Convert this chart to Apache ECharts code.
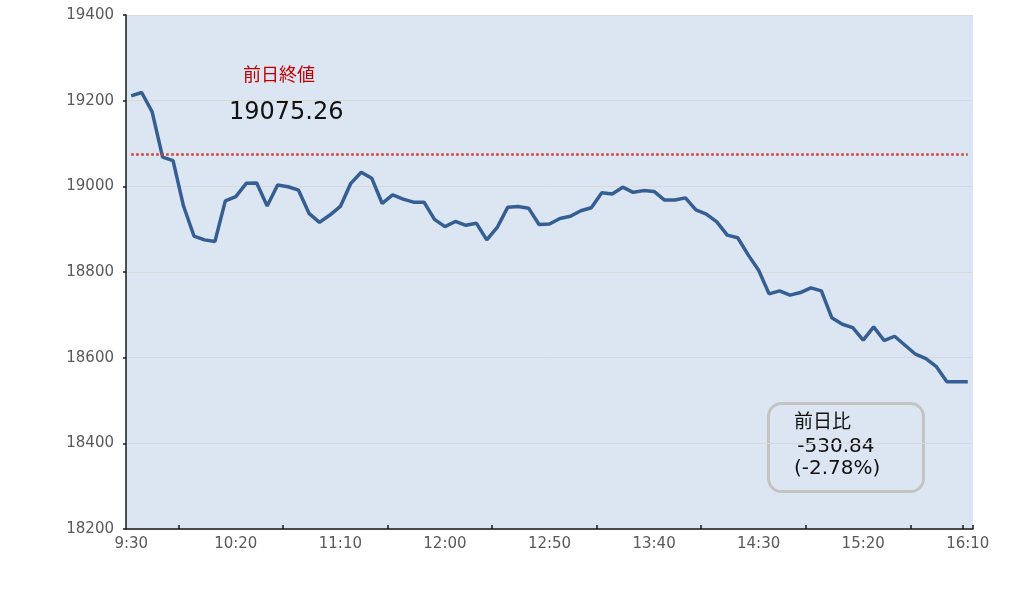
<!DOCTYPE html>
<html>
<head>
<meta charset="utf-8">
<script src="https://cdn.jsdelivr.net/npm/echarts@6/dist/echarts.min.js"></script>
<style>html,body{margin:0;padding:0;background:#fff}#c{width:1036px;height:598px}</style>
</head>
<body>
<div id="c"></div>
<script>
// categories: 5-minute steps from 9:30 to 16:10
const categories = [];
for (let m = 9 * 60 + 30; m <= 16 * 60 + 10; m += 5) {
  categories.push(Math.floor(m / 60) + ':' + String(m % 60).padStart(2, '0'));
}
const prices = [
  19211, 19219, 19174, 19068, 19060, 18954, 18884, 18875, 18871, 18966,
  18976, 19007, 19008, 18954, 19003, 18999, 18991, 18937, 18916, 18933,
  18953, 19007, 19033, 19019, 18960, 18980, 18970, 18963, 18963, 18923,
  18906, 18918, 18909, 18914, 18875, 18904, 18951, 18953, 18949, 18911,
  18912, 18925, 18930, 18943, 18950, 18985, 18982, 18998, 18986, 18990,
  18988, 18968, 18968, 18973, 18945, 18935, 18917, 18886, 18880, 18840,
  18804, 18749, 18756, 18746, 18752, 18763, 18756, 18693, 18678, 18670,
  18641, 18672, 18640, 18650, 18629, 18608, 18598, 18579, 18544, 18544,
  18544
];
const prevClose = 19075.26;
const yTicks = [18200, 18400, 18600, 18800, 19000, 19200, 19400];
const prevCloseLabel = '前日終値';
const prevCloseText = '19075.26';
const diffLines = ['前日比', ' -530.84', '(-2.78%)'];

const chart = echarts.init(document.getElementById('c'), null, {renderer: 'canvas'});
const font = 'DejaVu Sans, Noto Sans CJK JP, sans-serif';
chart.setOption({
  backgroundColor: '#ffffff',
  animation: false,
  grid: {
    left: 126, right: 63, top: 15, bottom: 69,
    show: true, backgroundColor: '#dce6f2', borderWidth: 0
  },
  xAxis: {
    type: 'category',
    data: categories,
    boundaryGap: true,
    axisLine: {show: true, lineStyle: {color: '#1a1a1a', width: 1.5}},
    axisTick: {
      show: true, inside: true, length: 4,
      interval: function (i) { return i % 10 === 5 || i === 80; },
      lineStyle: {color: '#1a1a1a', width: 1.5}
    },
    axisLabel: {interval: 9, color: '#595959', fontSize: 15, fontFamily: font, margin: 8},
    splitLine: {show: false}
  },
  yAxis: {
    type: 'value',
    min: yTicks[0], max: yTicks[yTicks.length - 1], interval: 200,
    axisLine: {show: true, lineStyle: {color: '#1a1a1a', width: 1.5}},
    axisTick: {show: true, inside: false, length: 3, lineStyle: {color: '#1a1a1a', width: 1.5}},
    axisLabel: {color: '#595959', fontSize: 15, fontFamily: font, margin: 12,
      formatter: function (v) { return String(v); }},
    splitLine: {show: true, lineStyle: {color: '#d9d9d9', width: 1}}
  },
  series: [{
    type: 'line',
    data: prices,
    showSymbol: false,
    symbol: 'none',
    lineStyle: {color: '#355e92', width: 3.5},
    z: 3,
    markLine: {
      silent: true,
      symbol: 'none',
      label: {show: false},
      lineStyle: {color: '#d23a3a', type: 'dotted', width: 2.5},
      data: [[{coord: [0, prevClose]}, {coord: [categories.length - 1, prevClose]}]]
    }
  }],
  graphic: [
    {type: 'text', left: 243, top: 67, style: {text: prevCloseLabel, fill: '#c00000', font: '18px ' + font}},
    {type: 'text', left: 229, top: 101, style: {text: prevCloseText, fill: '#111111', font: '24px ' + font}},
    {type: 'rect', left: 767, top: 402, shape: {width: 155, height: 88, r: 13},
     style: {fill: 'rgba(0,0,0,0)', stroke: '#c3c3c3', lineWidth: 3}},
    {type: 'text', left: 794, top: 414, style: {text: diffLines[0], fill: '#111111', font: '19px ' + font}},
    {type: 'text', left: 791, top: 437, style: {text: diffLines[1], fill: '#111111', font: '20px ' + font}},
    {type: 'text', left: 794, top: 459, style: {text: diffLines[2], fill: '#111111', font: '20px ' + font}}
  ]
});
</script>
</body>
</html>
